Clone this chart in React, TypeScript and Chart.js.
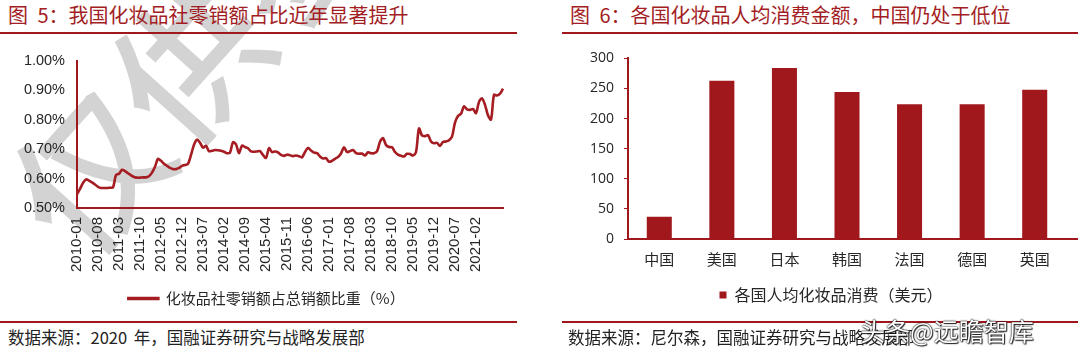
import React, { useEffect, useRef } from 'react';
import { Chart, registerables } from 'chart.js';

Chart.register(...registerables);

const RED = '#A0171C';
const LINE_RED = '#A51D22';
const TEXT = '#262626';
const CJK = '"Noto Sans CJK SC", "Noto Sans", sans-serif';
const SANS = '"Liberation Sans", Arial, sans-serif';

// ---- Figure 5 data ----
const shareMonths: string[] = (() => {
  const out: string[] = [];
  for (let y = 2010; y <= 2021; y++) {
    for (let m = 1; m <= 12; m++) {
      if (y === 2021 && m > 11) break;
      out.push(`${y}-${String(m).padStart(2, '0')}`);
    }
  }
  return out;
})();

const shareTickLabels = [
  '2010-01', '2010-08', '2011-03', '2011-10', '2012-05', '2012-12', '2013-07',
  '2014-02', '2014-09', '2015-04', '2015-11', '2016-06', '2017-01', '2017-08',
  '2018-03', '2018-10', '2019-05', '2019-12', '2020-07', '2021-02',
];

// share of cosmetics retail sales in total retail sales (%)
const shareValues = [
  0.547, 0.565, 0.585, 0.597, 0.593, 0.587, 0.580, 0.572, 0.568, 0.568,
  0.568, 0.569, 0.570, 0.612, 0.616, 0.630, 0.625, 0.618, 0.611, 0.605,
  0.603, 0.603, 0.604, 0.604, 0.608, 0.620, 0.640, 0.667, 0.660, 0.650,
  0.643, 0.636, 0.632, 0.632, 0.636, 0.643, 0.646, 0.650, 0.680, 0.715,
  0.732, 0.722, 0.705, 0.711, 0.693, 0.694, 0.697, 0.696, 0.694, 0.691,
  0.686, 0.688, 0.723, 0.716, 0.686, 0.712, 0.707, 0.703, 0.692, 0.691,
  0.692, 0.693, 0.680, 0.670, 0.703, 0.690, 0.692, 0.689, 0.680, 0.677,
  0.681, 0.679, 0.676, 0.678, 0.676, 0.672, 0.690, 0.704, 0.695, 0.688,
  0.686, 0.675, 0.668, 0.669, 0.657, 0.660, 0.667, 0.673, 0.685, 0.706,
  0.690, 0.693, 0.697, 0.686, 0.684, 0.685, 0.678, 0.689, 0.686, 0.686,
  0.692, 0.725, 0.737, 0.714, 0.707, 0.706, 0.690, 0.681, 0.677, 0.675,
  0.684, 0.683, 0.678, 0.690, 0.770, 0.746, 0.744, 0.747, 0.726, 0.720,
  0.721, 0.711, 0.724, 0.726, 0.730, 0.742, 0.790, 0.812, 0.820, 0.845,
  0.835, 0.833, 0.836, 0.822, 0.860, 0.872, 0.850, 0.815, 0.800, 0.884,
  0.882, 0.888, 0.905,
];

// ---- Figure 6 data ----
const countries = ['中国', '美国', '日本', '韩国', '法国', '德国', '英国'];
const perCapitaSpend = [37, 263, 284, 244, 224, 224, 248];

const extendAxisPlugin = {
  id: 'extendAxis',
  afterLayout(chart: any) {
    if (chart.legend) {
      chart.legend.left += 28;
      chart.legend.right += 28;
    }
  },
  afterDraw(chart: any) {
    const { ctx, chartArea } = chart;
    ctx.save();
    ctx.strokeStyle = RED;
    ctx.lineWidth = 2;
    ctx.beginPath();
    ctx.moveTo(chartArea.right, chartArea.bottom);
    ctx.lineTo(chart.width, chartArea.bottom);
    ctx.stroke();
    ctx.restore();
  },
};

function LineChart() {
  const ref = useRef<HTMLCanvasElement>(null);
  useEffect(() => {
    const chart = new Chart(ref.current!, {
      type: 'line',
      data: {
        labels: shareMonths,
        datasets: [
          {
            label: '化妆品社零销额占总销额比重（%）',
            data: shareValues,
            borderColor: LINE_RED,
            backgroundColor: LINE_RED,
            borderWidth: 2.6,
            pointRadius: 0,
            tension: 0.3,
            fill: false,
          },
        ],
      },
      options: {
        responsive: false,
        animation: false,
        layout: { padding: { left: 16, right: 13, top: 12, bottom: 0 } },
        plugins: {
          tooltip: { enabled: false },
          legend: {
            position: 'bottom',
            labels: {
              boxWidth: 30,
              boxHeight: 1,
              padding: 10,
              color: TEXT,
              font: { family: CJK, size: 15 },
            },
          },
        },
        scales: {
          x: {
            type: 'category',
            grid: { display: false, drawTicks: false },
            border: { display: true, color: RED, width: 2 },
            afterFit: (s: any) => { s.height = 73; },
            ticks: {
              autoSkip: false,
              maxRotation: 90,
              minRotation: 90,
              padding: 9,
              color: TEXT,
              font: { family: SANS, size: 15 },
              callback: function (this: any, _v: any, i: number) {
                const lab = shareMonths[i];
                return shareTickLabels.includes(lab) ? lab : '';
              },
            },
          },
          y: {
            min: 0.5,
            max: 1.0,
            grid: { display: false, drawTicks: false },
            border: { display: true, color: RED, width: 2 },
            afterFit: (s: any) => { s.width = 61; },
            ticks: {
              stepSize: 0.1,
              padding: 12,
              color: TEXT,
              font: { family: SANS, size: 14.5 },
              callback: (v: any) => Number(v).toFixed(2) + '%',
            },
          },
        },
      },
    } as any);
    return () => chart.destroy();
  }, []);
  return <canvas ref={ref} width={530} height={276} style={{ position: 'absolute', left: 0, top: 40, width: 530, height: 276 }} />;
}

function BarChart() {
  const ref = useRef<HTMLCanvasElement>(null);
  useEffect(() => {
    const chart = new Chart(ref.current!, {
      type: 'bar',
      data: {
        labels: countries,
        datasets: [
          {
            label: '各国人均化妆品消费（美元）',
            data: perCapitaSpend,
            backgroundColor: RED,
            borderWidth: 0,
            barPercentage: 0.4,
            categoryPercentage: 1.0,
          },
        ],
      },
      options: {
        responsive: false,
        animation: false,
        layout: { padding: { left: 0, right: 12, top: 13, bottom: 3 } },
        plugins: {
          tooltip: { enabled: false },
          legend: {
            position: 'bottom',
            labels: {
              boxWidth: 7,
              boxHeight: 7,
              padding: 10,
              color: TEXT,
              font: { family: CJK, size: 16 },
            },
          },
        },
        scales: {
          x: {
            grid: { display: false, drawTicks: false },
            border: { display: true, color: RED, width: 2 },
            afterFit: (s: any) => { s.height = 38; },
            ticks: {
              padding: 11,
              color: TEXT,
              font: { family: CJK, size: 15 },
            },
          },
          y: {
            min: 0,
            max: 300,
            grid: { display: true, drawOnChartArea: false, drawTicks: true, tickLength: 4, color: RED },
            border: { display: true, color: RED, width: 2 },
            afterFit: (s: any) => { s.width = 88; },
            ticks: {
              stepSize: 50,
              padding: 10,
              color: TEXT,
              font: { family: '"Open Sans", sans-serif', size: 14 },
            },
          },
        },
      },
      plugins: [extendAxisPlugin],
    } as any);
    return () => chart.destroy();
  }, []);
  return <canvas ref={ref} width={538} height={276} style={{ position: 'absolute', left: 540, top: 40, width: 538, height: 276 }} />;
}

const titleStyle: React.CSSProperties = {
  position: 'absolute',
  top: 4,
  fontFamily: CJK,
  fontSize: 20,
  lineHeight: '22px',
  color: '#A31D24',
  whiteSpace: 'pre',
  wordSpacing: 5,
};

const footStyle: React.CSSProperties = {
  position: 'absolute',
  top: 327,
  fontFamily: CJK,
  fontSize: 16.5,
  lineHeight: '20px',
  color: '#222',
  whiteSpace: 'pre',
  wordSpacing: 3,
};

const rule = (left: number, width: number, top: number): React.CSSProperties => ({
  position: 'absolute',
  left,
  top,
  width,
  height: 2,
  background: RED,
});

export default function App() {
  return (
    <div style={{ position: 'fixed', left: 0, top: 0, width: 1078, height: 356, background: '#fff', overflow: 'hidden' }}>
      <div
        style={{
          position: 'absolute',
          left: 34,
          top: 148,
          fontFamily: CJK,
          fontSize: 150,
          lineHeight: '150px',
          color: 'rgba(196,196,196,0.75)',
          transform: 'rotate(-48deg)',
          transformOrigin: '0 50%',
          whiteSpace: 'nowrap',
          fontWeight: 500,
          pointerEvents: 'none',
        }}
      >
        仅供参考
      </div>
      <div style={{ ...titleStyle, left: 8 }}>图 5：我国化妆品社零销额占比近年显著提升</div>
      <div style={{ ...titleStyle, left: 570 }}>图 6：各国化妆品人均消费金额，中国仍处于低位</div>
      <div style={rule(0, 517, 32)} />
      <div style={rule(562, 516, 32)} />
      <LineChart />
      <BarChart />
      <div style={rule(0, 517, 321)} />
      <div style={rule(562, 516, 321)} />
      <div style={{ ...footStyle, left: 8 }}>数据来源：2020 年，国融证券研究与战略发展部</div>
      <div style={{ ...footStyle, left: 568 }}>数据来源：尼尔森，国融证券研究与战略发展部</div>
      <div
        style={{
          position: 'absolute',
          left: 860,
          top: 314,
          fontFamily: CJK,
          fontSize: 25,
          lineHeight: '32px',
          color: '#fff',
          whiteSpace: 'nowrap',
          textShadow: '0 0 1px #000, 0 0 2px #000, 1px 1px 1px #333',
        }}
      >
        头条@远瞻智库
      </div>
    </div>
  );
}
